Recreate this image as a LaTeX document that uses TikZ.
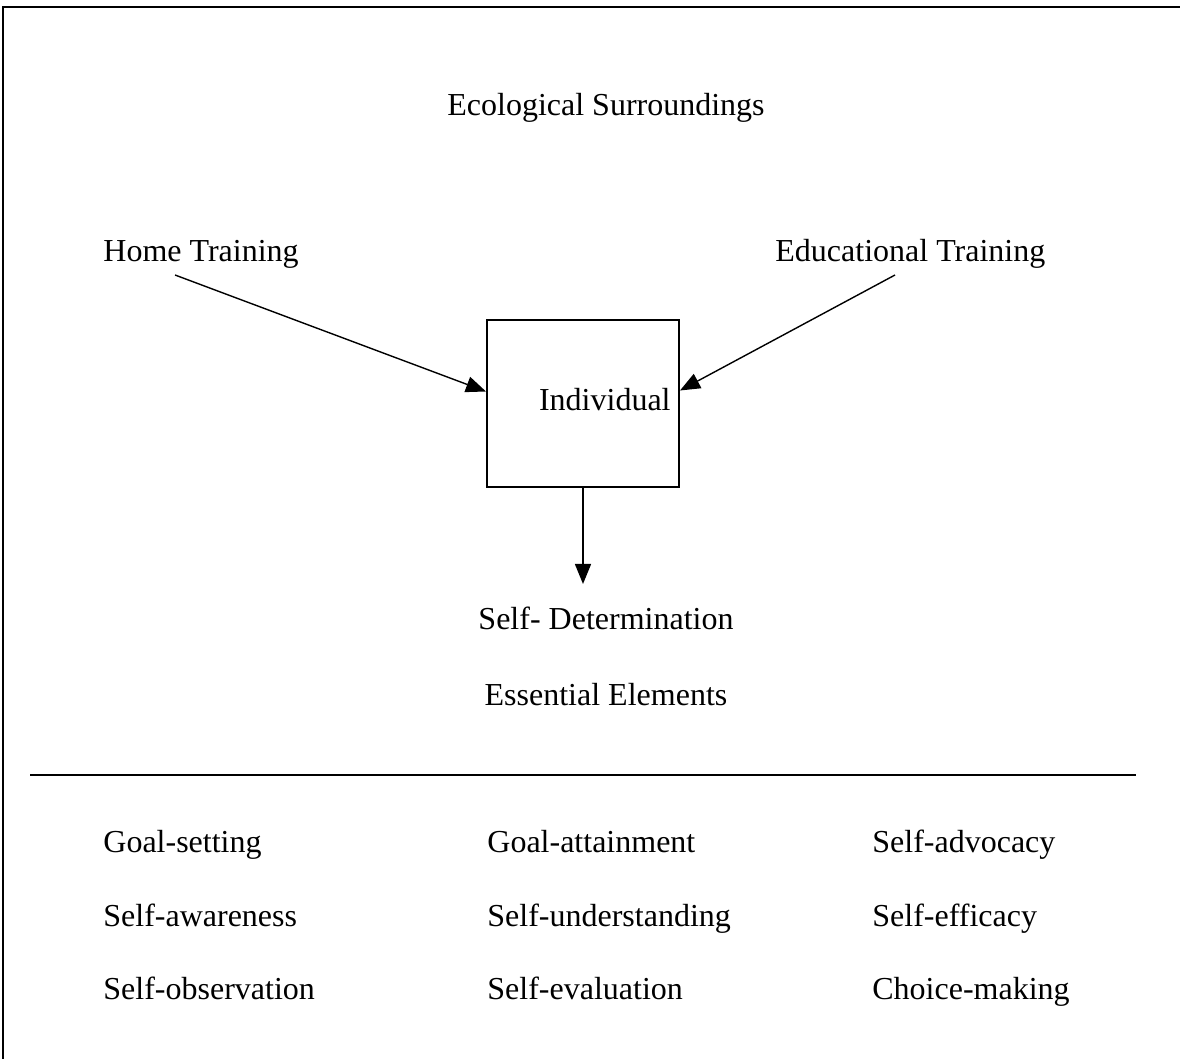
\documentclass[tikz,border=0pt]{standalone}
\usepackage{fontspec}
\setmainfont{Liberation Serif}
\usepackage{tikz}
\usetikzlibrary{arrows.meta, calc}

\begin{document}
\begin{tikzpicture}[x=0.5pt, y=-0.5pt, >={Triangle[length=10pt, width=8pt]},
    every node/.style={font=\fontsize{16}{19}\selectfont, inner sep=0pt},
    label/.style={anchor=base west},
    title/.style={anchor=base},
    link/.style={->, line width=0.7pt}]
                % Page
                \useasboundingbox (0,0) rectangle (1180,1059);
                \draw[line width=1.1pt] (3,1059) -- (3,7) -- (1180,7);
                % Titles
                \node[title] (eco) at (606,116) {Ecological Surroundings};
                \node[label] (home) at (103,262) {Home Training};
                \node[label] (edu) at (775,262) {Educational Training};
                % Individual
                \node[draw, line width=1pt, minimum width=96pt, minimum height=83.5pt] (box) at (583,403.5) {};
                \node[anchor=base east] (indiv) at (671,411) {Individual};
                % Arrows
                \coordinate (hometail) at (175,275);
                \coordinate (edutail) at (895,275);
                \draw[link] (hometail) -- ($(box.west)+(0,-12)$);
                \draw[link] (edutail) -- ($(box.east)+(0,-13)$);
                \draw[link] (box.south) -- ++(0,96) coordinate (sdtop);
                % Self-Determination
                \node[title] (sd) at (606,630) {Self- Determination};
                \node[title] (ess) at (606,705) {Essential Elements};
                \coordinate (ruleL) at (30,775);
                \coordinate (ruleR) at (1136,775);
                \draw[line width=0.9pt] (ruleL) -- (ruleR);
                % Elements
                \node[label] (gs) at (103,852) {Goal-setting};
                \node[label] (ga) at (487,852) {Goal-attainment};
                \node[label] (sadv) at (872,852) {Self-advocacy};
                \node[label] (saw) at (103,926) {Self-awareness};
                \node[label] (su) at (487,926) {Self-understanding};
                \node[label] (seff) at (872,926) {Self-efficacy};
                \node[label] (so) at (103,999) {Self-observation};
                \node[label] (sev) at (487,999) {Self-evaluation};
                \node[label] (cm) at (872,999) {Choice-making};
            \end{tikzpicture}
\end{document}
